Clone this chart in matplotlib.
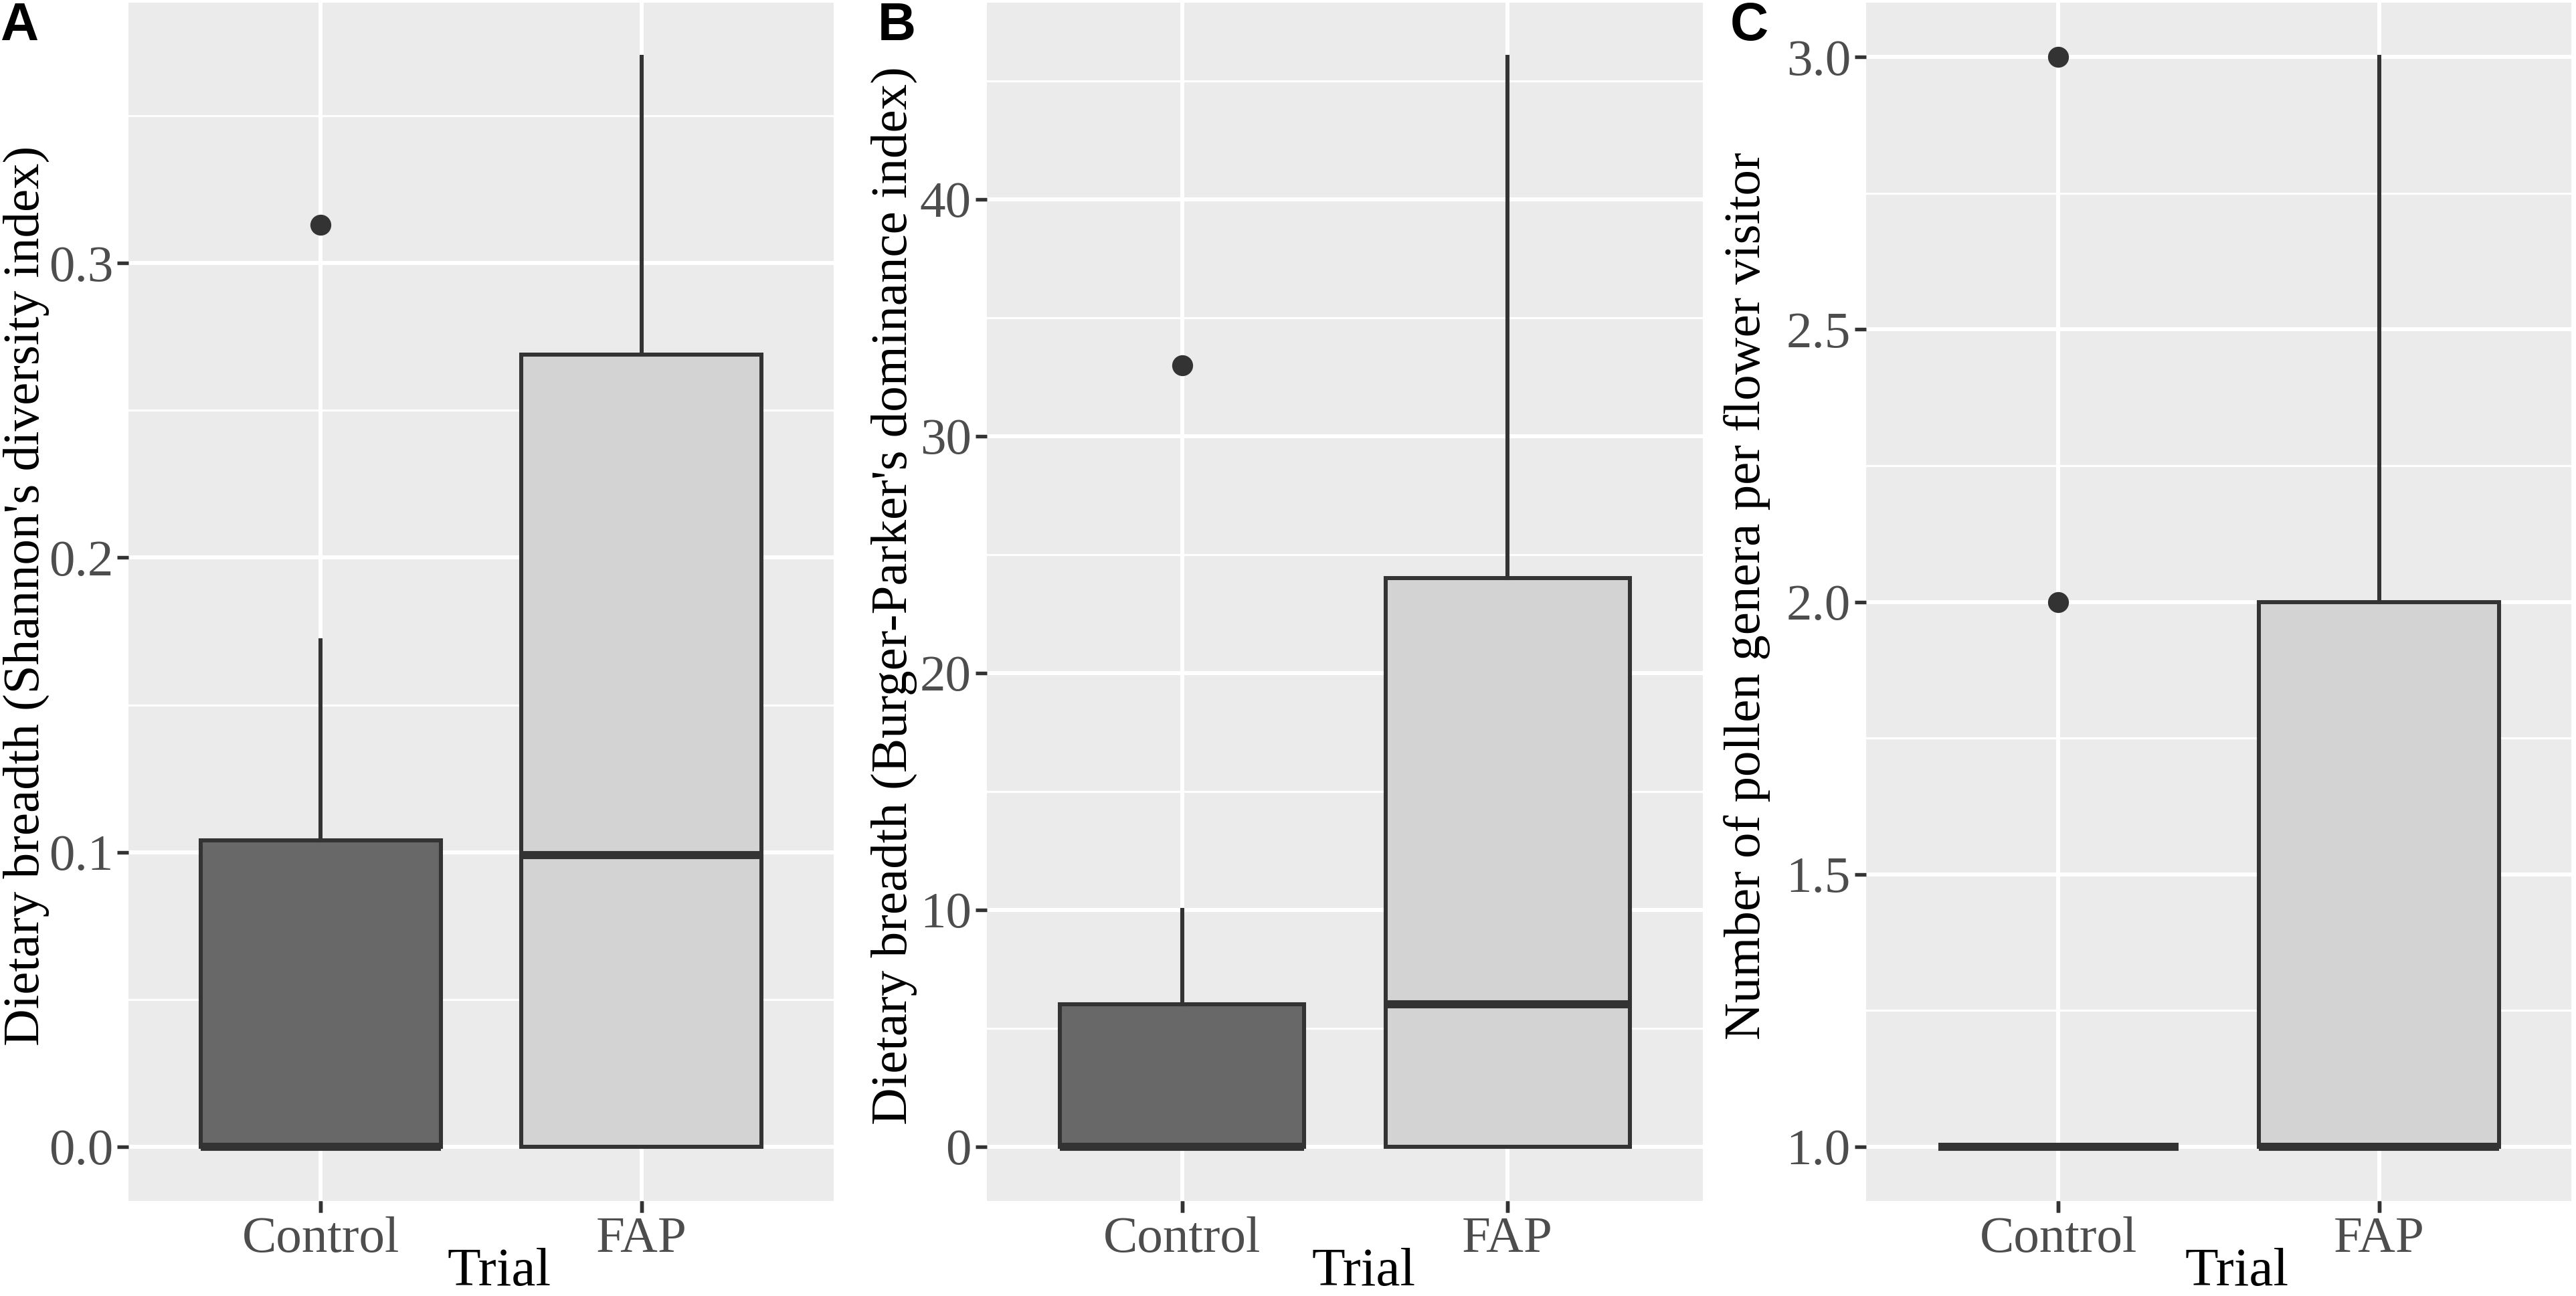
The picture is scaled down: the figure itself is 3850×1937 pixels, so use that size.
import matplotlib
matplotlib.use("Agg")
import matplotlib.pyplot as plt
from matplotlib.ticker import FixedLocator

# ---------------- data ----------------
categories = ["Control", "FAP"]
panel_letters = ["A", "B", "C"]
y_titles = ["Dietary breadth (Shannon's diversity index)",
            "Dietary breadth (Burger-Parker's dominance index)",
            "Number of pollen genera per flower visitor"]
x_title = "Trial"

# box statistics per panel: [Control, FAP] -> (whislo, q1, median, q3, whishi)
shannon_stats = [(0.0, 0.0, 0.0, 0.104, 0.172), (0.0, 0.0, 0.099, 0.269, 0.37)]
shannon_outliers = [[0.313], []]
bp_stats = [(0, 0, 0, 6, 10), (0, 0, 6, 24, 46)]
bp_outliers = [[33], []]
pollen_stats = [(1, 1, 1, 1, 1), (1, 1, 1, 2, 3)]
pollen_outliers = [[2, 3], []]

yticks_A = [0.0, 0.1, 0.2, 0.3]
ytick_labels_A = ["0.0", "0.1", "0.2", "0.3"]
yticks_B = [0, 10, 20, 30, 40]
ytick_labels_B = ["0", "10", "20", "30", "40"]
yticks_C = [1.0, 1.5, 2.0, 2.5, 3.0]
ytick_labels_C = ["1.0", "1.5", "2.0", "2.5", "3.0"]

fills = ["#686868", "#D3D3D3"]

# ---------------- style ----------------
W, H = 3850, 1937
DPI = 300
fig = plt.figure(figsize=(W / DPI, H / DPI), dpi=DPI)

serif = ["Liberation Serif", "DejaVu Serif"]
PANEL = "#EBEBEB"
LINE = "#333333"
TICKTXT = "#4D4D4D"
FS_TICK = 18.5
FS_YTITLE = 18.5
FS_XTITLE = 19.5

def px_axes(l, r, t, b):
    return [l / W, (H - b) / H, (r - l) / W, (b - t) / H]

rects = [px_axes(192, 1246, 4, 1795),
         px_axes(1475, 2545, 4, 1795),
         px_axes(2789, 3843, 4, 1795)]

panels = [
    (shannon_stats, shannon_outliers, yticks_A, ytick_labels_A),
    (bp_stats, bp_outliers, yticks_B, ytick_labels_B),
    (pollen_stats, pollen_outliers, yticks_C, ytick_labels_C),
]
ylabel_x = [-0.112, -0.097, -0.136]
letter_x = [0, 1312, 2586]

for i, (stats, outl, yt, ytl) in enumerate(panels):
    ax = fig.add_axes(rects[i])
    ax.set_facecolor(PANEL)
    for s in ax.spines.values():
        s.set_visible(False)

    bxstats = []
    for j, cat in enumerate(categories):
        lo, q1, med, q3, hi = stats[j]
        bxstats.append(dict(label=cat, whislo=lo, q1=q1, med=med, q3=q3,
                            whishi=hi, fliers=outl[j]))
    # limits with ggplot-like 5% expansion
    allv = [v for st in stats for v in st] + [v for o in outl for v in o]
    vmin, vmax = min(allv), max(allv)
    pad = 0.05 * (vmax - vmin)
    ax.set_ylim(vmin - pad, vmax + pad)
    ax.set_xlim(0.4, 2.6)

    # gridlines
    step = yt[1] - yt[0]
    minors = [yt[0] - step / 2 + k * step for k in range(len(yt) + 2)]
    ax.yaxis.set_major_locator(FixedLocator(yt))
    ax.yaxis.set_minor_locator(FixedLocator(minors))
    ax.set_yticklabels(ytl)
    ax.set_xticks([1, 2])
    ax.set_xticklabels(categories)
    ax.grid(True, which="major", axis="both", color="white", linewidth=1.45)
    ax.grid(True, which="minor", axis="y", color="white", linewidth=0.75)
    ax.tick_params(axis="y", which="minor", length=0)
    ax.set_axisbelow(True)

    bp = ax.bxp(bxstats, positions=[1, 2], widths=0.75, patch_artist=True,
                showcaps=False, showfliers=True,
                boxprops=dict(edgecolor=LINE, linewidth=1.45),
                whiskerprops=dict(color=LINE, linewidth=1.45),
                medianprops=dict(color=LINE, linewidth=2.9, solid_capstyle="butt"),
                flierprops=dict(marker="o", markerfacecolor=LINE,
                                markeredgecolor=LINE, markersize=6.5, linestyle="none"))
    for patch, fc in zip(bp["boxes"], fills):
        patch.set_facecolor(fc)
    for m in bp["medians"]:
        m.set_zorder(3)

    ax.tick_params(axis="both", which="major", length=4, width=1.3, color=LINE,
                   labelcolor=TICKTXT, labelsize=FS_TICK, pad=1.5)
    for lab in ax.get_xticklabels() + ax.get_yticklabels():
        lab.set_fontfamily(serif)

    ax.set_ylabel(y_titles[i], fontsize=FS_YTITLE, family=serif, color="black")
    ax.yaxis.set_label_coords(ylabel_x[i], 0.505)
    ax.set_xlabel(x_title, fontsize=FS_XTITLE, family=serif, color="black")
    ax.xaxis.set_label_coords(0.526, -0.039)

    fig.text(letter_x[i] / W, 1 - 2 / H, panel_letters[i], fontsize=19,
             fontweight="bold", family=["Liberation Sans", "DejaVu Sans"],
             ha="left", va="top")

fig.savefig("out.png", dpi=DPI, facecolor="white")
